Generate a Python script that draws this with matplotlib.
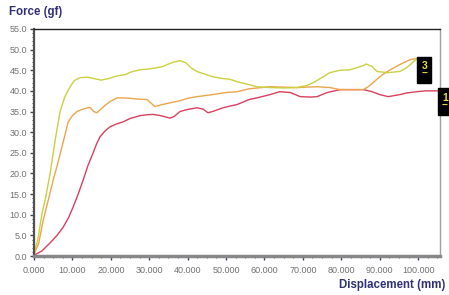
import numpy as np
import matplotlib
matplotlib.use("Agg")
import matplotlib.pyplot as plt
from matplotlib.ticker import MultipleLocator, FormatStrFormatter

# curve 3 (yellow-green)
green_x = [0, 1, 2.1, 3, 4.2, 5.5, 6.8, 8, 9.4, 10.5, 12, 14, 16, 17.5, 19.5, 21.6, 24, 25,
           27.6, 30, 32, 33.6, 35, 36.5, 38, 39.5, 41, 42.4, 44, 46.6, 49, 51, 53, 56, 58,
           61.5, 65, 68.5, 71, 72.7, 75.3, 77, 79.7, 82.3, 84, 85.7, 86.5, 88, 89.3, 92,
           95.3, 97, 98, 99.7]
green_y = [0.5, 4, 10.4, 14, 20, 28, 35, 38.5, 41, 42.5, 43.2, 43.3, 42.9, 42.6, 43, 43.6,
           44, 44.5, 45.1, 45.3, 45.6, 45.9, 46.5, 47, 47.3, 46.8, 45.5, 44.7, 44.2, 43.4,
           43, 42.8, 42.2, 41.5, 41, 40.8, 40.7, 40.8, 41.3, 42, 43.4, 44.4, 45, 45.1, 45.6,
           46.1, 46.5, 45.9, 44.7, 44.4, 44.7, 45.6, 46.4, 47.8]

# curve 2 (orange)
orange_x = [0, 1.2, 2.4, 3.7, 5, 6.2, 7.3, 8.1, 8.9, 10, 11.2, 12.5, 14, 14.6, 15.5, 16.4,
            17.2, 18.5, 19.8, 21.6, 23.2, 25, 27, 29.4, 30.5, 31.5, 33, 35.4, 38, 40, 42.4,
            46.6, 50, 52.9, 56, 61.5, 65, 68.5, 73.7, 77, 79.7, 81.5, 85.7, 87, 88.3, 90,
            92, 95.3, 98, 99.7]
orange_y = [0.5, 3, 8.7, 13.5, 18.4, 22.5, 26.5, 29.5, 32.5, 34, 35, 35.5, 35.9, 36, 35,
            34.7, 35.4, 36.5, 37.4, 38.3, 38.3, 38.2, 38, 37.9, 37, 36.2, 36.6, 37.1, 37.6,
            38.2, 38.6, 39.1, 39.6, 39.8, 40.5, 41, 40.9, 40.8, 41, 40.8, 40.3, 40.3, 40.3,
            41, 42, 43.4, 44.7, 46.4, 47.6, 47.8]

# curve 1 (red)
red_x = [0, 2, 4.2, 6, 7.6, 9, 10.2, 11.5, 12.8, 14, 15.4, 16.3, 17.2, 18.5, 19.8, 21.5,
         23.2, 25, 27.6, 29.4, 31, 33, 35.4, 36.5, 38, 40, 42.4, 44, 45.3, 46.5, 49.2, 51,
         52.9, 56, 58, 61.5, 64, 66.7, 69.3, 72, 73.7, 76.3, 79.7, 82, 85.7, 88, 90, 92.2,
         95.3, 97, 99.7, 102, 105]
red_y = [0.2, 1.2, 3.2, 5, 7, 9.3, 11.9, 15, 18.4, 21.8, 25, 27.2, 28.9, 30.3, 31.3, 32,
         32.5, 33.3, 34, 34.2, 34.3, 34, 33.4, 33.8, 35, 35.5, 35.9, 35.6, 34.7, 35, 35.9,
         36.3, 36.7, 37.9, 38.3, 39.1, 39.8, 39.6, 38.6, 38.5, 38.6, 39.6, 40.3, 40.3, 40.3,
         39.8, 39.1, 38.6, 39.1, 39.5, 39.8, 40, 40]

plt.rcParams['font.family'] = ['Liberation Sans', 'DejaVu Sans']

fig = plt.figure(figsize=(4.49, 2.95), dpi=100)
ax = fig.add_axes([0.0757, 0.132, 0.9043, 0.770])

ax.plot(red_x, red_y, color='#d8405e', lw=1.0)
ax.plot(orange_x, orange_y, color='#eaa64e', lw=1.0)
ax.plot(green_x, green_y, color='#cbd040', lw=1.0)

ax.set_xlim(0, 105.7)
ax.set_ylim(0, 55)
ax.xaxis.set_major_locator(MultipleLocator(10))
ax.xaxis.set_minor_locator(MultipleLocator(2.5))
ax.yaxis.set_major_locator(MultipleLocator(5))
ax.yaxis.set_minor_locator(MultipleLocator(1))
ax.xaxis.set_major_formatter(FormatStrFormatter('%.3f'))
ax.yaxis.set_major_formatter(FormatStrFormatter('%.1f'))
ax.tick_params(axis='both', which='major', labelsize=6.5, labelcolor='#707070',
               length=3, width=1, color='#404060')
ax.tick_params(axis='x', which='major', pad=4)
ax.tick_params(axis='y', which='major', pad=2)
ax.tick_params(axis='both', which='minor', length=1.5, width=0.6, color='#404040')

ax.spines['left'].set_color('#505050')
ax.spines['left'].set_linewidth(1.6)
ax.spines['bottom'].set_color('#888888')
ax.spines['bottom'].set_linewidth(2.5)
ax.spines['top'].set_color('#202020')
ax.spines['top'].set_linewidth(1.0)
ax.spines['right'].set_color('#a0a0a0')
ax.spines['right'].set_linewidth(1.0)

fig.text(0.02, 0.958, 'Force (gf)', fontsize=8.3, fontweight='bold', color='#30307a',
         ha='left', va='center')
fig.text(0.992, 0.034, 'Displacement (mm)', fontsize=8.3, fontweight='bold', color='#30307a',
         ha='right', va='center')

# curve tags
ax.text(101.6, 45.1, '3\n\u2013', fontsize=7.5, fontweight='bold', color='#e8e040',
        ha='center', va='center', linespacing=0.75,
        bbox=dict(boxstyle='square,pad=0.4', fc='black', ec='black'), clip_on=False)
ax.text(107.0, 37.4, '1\n\u2013', fontsize=7.5, fontweight='bold', color='#e8e040',
        ha='center', va='center', linespacing=0.75,
        bbox=dict(boxstyle='square,pad=0.4', fc='black', ec='black'), clip_on=False)

fig.savefig('out.png', dpi=100)
